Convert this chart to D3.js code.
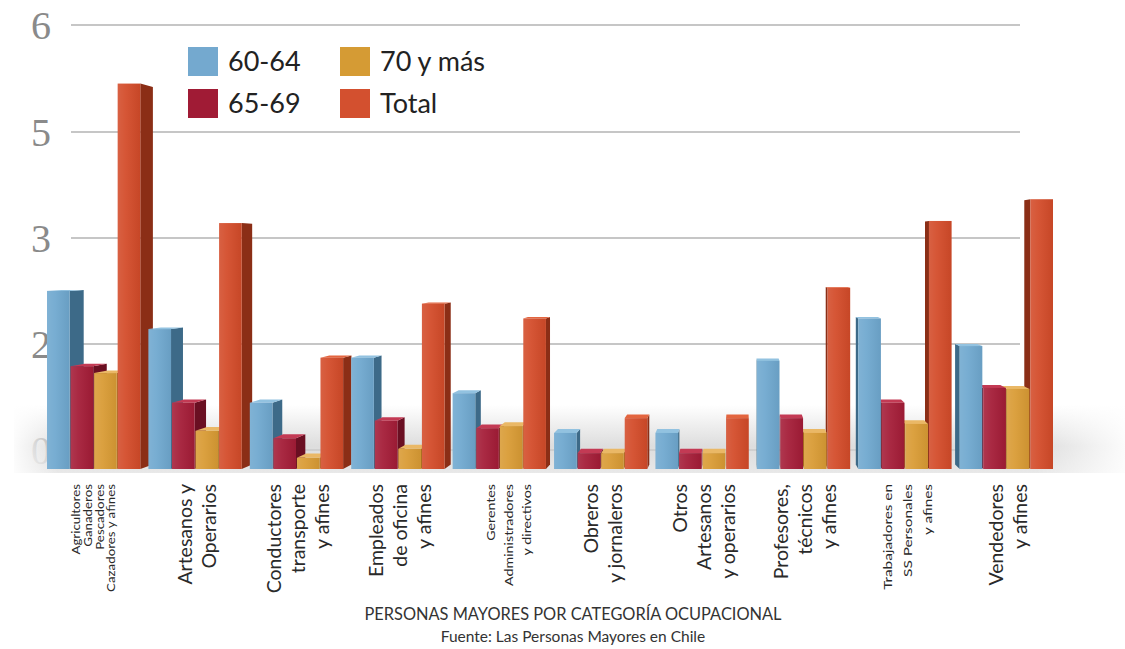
<!DOCTYPE html>
<html>
<head>
<meta charset="utf-8">
<script src="https://cdn.jsdelivr.net/npm/d3@7"></script>
<style>
  body { margin: 0; background: #fff; }
  svg { display: block; font-family: Lato, "Open Sans", sans-serif; }
</style>
</head>
<body>
<svg id="chart" width="1125" height="649"></svg>
<script>
// categorias (eje x) y las lineas de cada etiqueta
const categories = ['Agricultores', 'Artesanos', 'Conductores', 'Empleados', 'Gerentes',
    'Obreros', 'Otros', 'Profesores', 'Trabajadores', 'Vendedores'];
const labelLines = [
    ['Agricultores', 'Ganaderos', 'Pescadores', 'Cazadores y afines'],
    ['Artesanos y', 'Operarios'],
    ['Conductores', 'transporte', 'y afines'],
    ['Empleados', 'de oficina', 'y afines'],
    ['Gerentes', 'Administradores', 'y directivos'],
    ['Obreros', 'y jornaleros'],
    ['Otros', 'Artesanos', 'y operarios'],
    ['Profesores,', 'técnicos', 'y afines'],
    ['Trabajadores en', 'SS Personales', 'y afines'],
    ['Vendedores', 'y afines']
];

const series = ['60-64', '65-69', '70 y más', 'Total'];
const v6064  = [2.68, 2.32, 1.25, 2.05, 1.43, 0.68, 0.68, 2.02, 2.42, 2.16];
const v6569  = [1.94, 1.25, 0.58, 0.91, 0.77, 0.30, 0.30, 0.96, 1.25, 1.53];
const v70    = [1.81, 0.72, 0.21, 0.38, 0.81, 0.30, 0.30, 0.68, 0.85, 1.51];
const vTotal = [5.63, 3.64, 2.05, 2.56, 2.42, 0.96, 0.96, 2.71, 3.68, 4.09];

// etiquetas del eje y tal como aparecen
const yTicks = [0, 2, 3, 5, 6];

const colors = {
    '60-64':    {front: '#6fa8cf', side: '#3d6a88', top: '#92c2e0', legend: '#74a9cf'},
    '65-69':    {front: '#a41c37', side: '#6a0f22', top: '#c33a54', legend: '#a01b35'},
    '70 y más': {front: '#d99b34', side: '#a7701f', top: '#eab866', legend: '#d59b34'},
    'Total':    {front: '#d34b29', side: '#8b2e16', top: '#e3653f', legend: '#d3502f'}
};

// etiquetas pequeñas: largo de la linea mas larga, interlineado, corrimiento
const labelStyle = {
    Agricultores: {fs: 11.5, len: 108, lh: 11.7, dx: -2},
    Gerentes:     {fs: 11.5, len: 102, lh: 18,   dx: 8},
    Trabajadores: {fs: 11.5, len: 106, lh: 20,   dx: 1}
};
const bigLabel = {fs: 19.5, len: null, lh: 24, dx: 0};

const svg = d3.select('#chart');
const defs = svg.append('defs');

// escalas: pared del fondo y plano frontal de las barras
const y = d3.scaleLinear().domain(yTicks).range([450, 344, 238, 132, 25]);
const yBar = d3.scaleLinear().domain(yTicks).range([469, 363, 257, 151, 44]);
const x0 = d3.scaleBand().domain(categories).range([47, 1053]).paddingInner(0.08);
const x1 = d3.scaleBand().domain(series).range([0, x0.bandwidth()]).paddingInner(0.04);

const seriesValues = {'60-64': v6064, '65-69': v6569, '70 y más': v70, 'Total': vTotal};

/* lineas de la grilla y etiquetas */
svg.append('g').selectAll('line')
    .data(yTicks)
    .join('line')
    .attr('x1', 71).attr('x2', 1020)
    .attr('y1', d => y(d)).attr('y2', d => y(d))
    .attr('stroke', '#c6c6c6')
    .attr('stroke-width', 2.2);

svg.append('g').selectAll('text')
    .data(yTicks)
    .join('text')
    .attr('x', 41)
    .attr('y', d => y(d) + 14)
    .attr('text-anchor', 'middle')
    .attr('font-family', '"Liberation Serif", serif')
    .attr('font-size', 40)
    .attr('fill', '#8a8a8a')
    .text(d => d);

/* piso con sombra */
const floorGrad = defs.append('linearGradient')
    .attr('id', 'floorGrad').attr('x1', 0).attr('y1', 0).attr('x2', 0).attr('y2', 1);
floorGrad.append('stop').attr('offset', '0%').attr('stop-color', '#d0d0d0').attr('stop-opacity', 0);
floorGrad.append('stop').attr('offset', '60%').attr('stop-color', '#cfcfcf').attr('stop-opacity', 0.7);
floorGrad.append('stop').attr('offset', '100%').attr('stop-color', '#e6e6e6').attr('stop-opacity', 0.9);
const sideGrad = defs.append('linearGradient')
    .attr('id', 'sideGrad').attr('x1', 0).attr('y1', 0).attr('x2', 1).attr('y2', 0);
sideGrad.append('stop').attr('offset', '0%').attr('stop-color', '#fff').attr('stop-opacity', 0.9);
sideGrad.append('stop').attr('offset', '4%').attr('stop-color', '#fff').attr('stop-opacity', 0);
sideGrad.append('stop').attr('offset', '92%').attr('stop-color', '#fff').attr('stop-opacity', 0);
sideGrad.append('stop').attr('offset', '100%').attr('stop-color', '#fff').attr('stop-opacity', 0.9);

svg.append('rect')
    .attr('x', 14).attr('y', 405).attr('width', 1111).attr('height', 68)
    .attr('fill', 'url(#floorGrad)');
svg.append('rect')
    .attr('x', 14).attr('y', 405).attr('width', 1111).attr('height', 68)
    .attr('fill', 'url(#sideGrad)');

// brillo suave sobre la cara frontal
const shine = defs.append('linearGradient')
    .attr('id', 'shine').attr('x1', 0).attr('y1', 0).attr('x2', 1).attr('y2', 0);
shine.append('stop').attr('offset', '0%').attr('stop-color', '#fff').attr('stop-opacity', 0.12);
shine.append('stop').attr('offset', '35%').attr('stop-color', '#fff').attr('stop-opacity', 0.06);
shine.append('stop').attr('offset', '100%').attr('stop-color', '#000').attr('stop-opacity', 0.06);

/* barras 3D */
const VP = [740, 250], K = 0.021;
const proj = (px, py) => [VP[0] + (px - VP[0]) * (1 - K), VP[1] + (py - VP[1]) * (1 - K)];

let bars = [];
categories.forEach((c, i) => {
    series.forEach(s => {
        const xl = x0(c) + x1(s), xr = xl + x1.bandwidth();
        bars.push({cat: c, s: s, xl: xl, xr: xr, yt: yBar(seriesValues[s][i]), yb: yBar(0)});
    });
});
// primero las barras mas lejos del punto de fuga
bars.sort((a, b) => Math.abs((b.xl + b.xr) / 2 - VP[0]) - Math.abs((a.xl + a.xr) / 2 - VP[0]));

const barG = svg.append('g');
bars.forEach(b => {
    const g = barG.append('g');
    const c = colors[b.s];
    let pts;
    if (b.xr < VP[0]) {
        pts = [[b.xr, b.yt], proj(b.xr, b.yt), proj(b.xr, b.yb), [b.xr, b.yb]];
    } else {
        pts = [[b.xl, b.yt], proj(b.xl, b.yt), proj(b.xl, b.yb), [b.xl, b.yb]];
    }
    g.append('polygon').attr('points', pts.map(p => p.join(',')).join(' ')).attr('fill', c.side);
    if (b.yt > VP[1]) {
        const top = [[b.xl, b.yt], [b.xr, b.yt], proj(b.xr, b.yt), proj(b.xl, b.yt)];
        g.append('polygon').attr('points', top.map(p => p.join(',')).join(' ')).attr('fill', c.top);
    }
    g.append('rect')
        .attr('x', b.xl).attr('y', b.yt)
        .attr('width', b.xr - b.xl).attr('height', b.yb - b.yt)
        .attr('fill', c.front);
    g.append('rect')
        .attr('x', b.xl).attr('y', b.yt)
        .attr('width', b.xr - b.xl).attr('height', b.yb - b.yt)
        .attr('fill', 'url(#shine)');
});

/* leyenda */
const legend = svg.append('g');
series.forEach((s, i) => {
    const lx = i < 2 ? 188 : 340, ly = i % 2 === 0 ? 47 : 89;
    legend.append('rect').attr('x', lx).attr('y', ly).attr('width', 30).attr('height', 29)
        .attr('fill', colors[s].legend);
    legend.append('text').attr('x', lx + 40).attr('y', ly + 24)
        .attr('font-size', 27).attr('fill', '#222').text(s);
});

/* etiquetas de categoria (rotadas) */
const labG = svg.append('g');
categories.forEach((c, i) => {
    const lines = labelLines[i];
    const st = labelStyle[c] || bigLabel;
    const cx = x0(c) + x0.bandwidth() / 2 + 2 + st.dx;
    const t = labG.append('text')
        .attr('text-anchor', 'end')
        .attr('font-size', st.fs)
        .attr('fill', '#2a2a2a');
    const spans = lines.map((l, j) => t.append('tspan').attr('x', 0).attr('y', j * st.lh).text(l));
    let stretch = 1;
    if (st.len) {
        const maxLen = d3.max(spans, s => s.node().getComputedTextLength());
        stretch = st.len / maxLen;
    }
    t.attr('transform', `translate(${cx - (lines.length - 1) * st.lh / 2 + st.fs * 0.35},484) rotate(-90) scale(${stretch},1)`);
});

/* titulo y fuente */
svg.append('text')
    .attr('x', 573).attr('y', 620)
    .attr('text-anchor', 'middle')
    .attr('font-size', 16.5).attr('fill', '#333')
    .attr('textLength', 417).attr('lengthAdjust', 'spacingAndGlyphs')
    .text('PERSONAS MAYORES POR CATEGORÍA OCUPACIONAL');
svg.append('text')
    .attr('x', 573).attr('y', 642)
    .attr('text-anchor', 'middle')
    .attr('font-size', 15.5).attr('fill', '#333')
    .text('Fuente: Las Personas Mayores en Chile');
</script>
</body>
</html>
